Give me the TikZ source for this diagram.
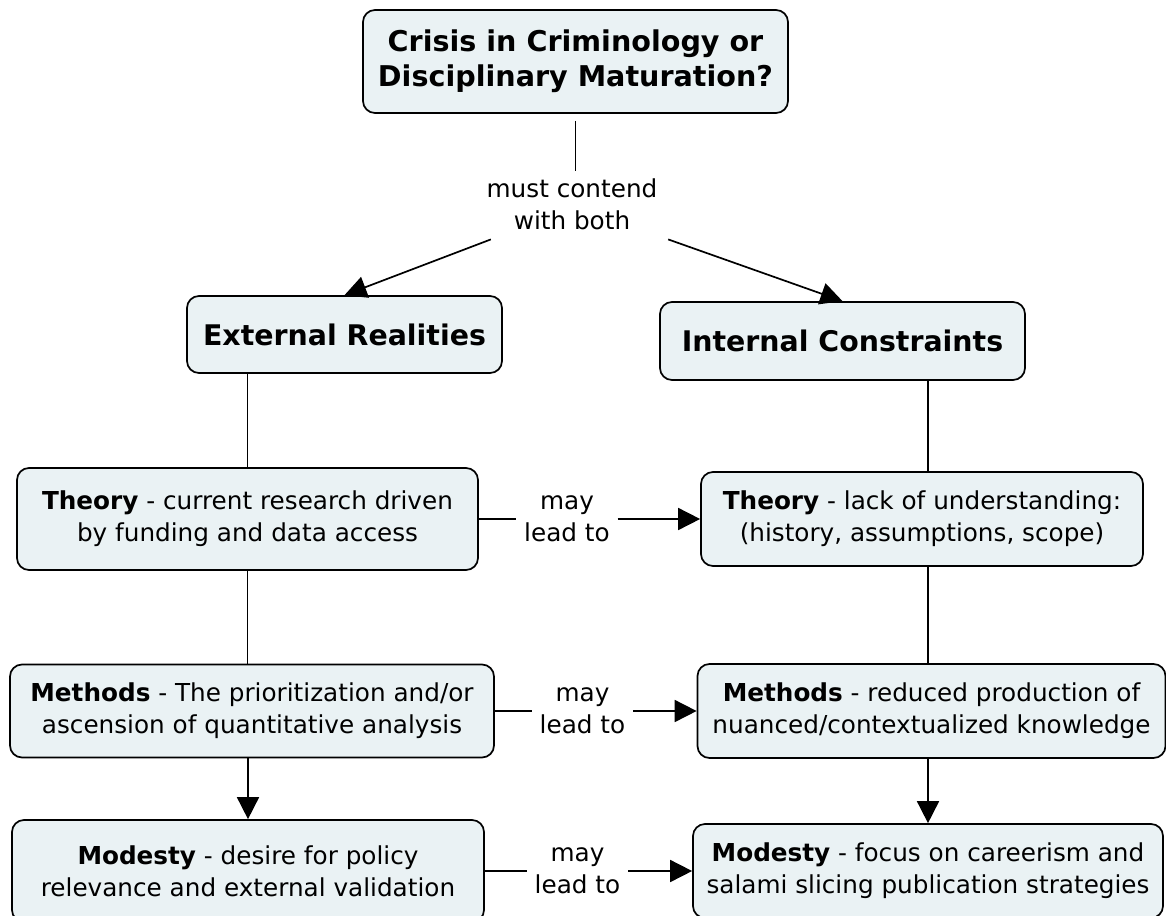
\documentclass[tikz,border=0pt]{standalone}
\usepackage{fontspec}
\setmainfont{DejaVu Sans}
\usepackage{xcolor}
\usetikzlibrary{arrows.meta}

\definecolor{conceptfill}{RGB}{234,242,244}
\tikzset{
  concept/.style={draw, fill=conceptfill, rounded corners=12pt, align=center, inner sep=0pt, font=\fontsize{24.7}{32}\selectfont},
  headconcept/.style={concept, font=\bfseries\fontsize{28.4}{35}\selectfont},
  linkphrase/.style={align=center, inner sep=7pt, font=\fontsize{24.7}{32}\selectfont},
  leadsto/.style={-{Triangle[length=22pt,width=22pt]}},
}

\begin{document}
\begin{tikzpicture}[x=1pt,y=-1pt,line width=1.7pt]
\useasboundingbox (0,0) rectangle (1166,915);

\node[headconcept, minimum width=425pt, minimum height=103pt, font=\bfseries\fontsize{28.6}{35}\selectfont] (crisis) at (575.5,61.5) {Crisis in Criminology or\\Disciplinary Maturation?};
\node[linkphrase] (must) at (572,204) {must contend\\with both};

\node[headconcept, minimum width=315pt, minimum height=77pt] (er) at (344.5,334.5) {External Realities};
\node[headconcept, minimum width=365pt, minimum height=78pt] (ic) at (842.5,341) {Internal Constraints};

%left column
\node[concept, minimum width=461pt, minimum height=102pt] (thL) at (247.5,519) {\textbf{Theory} - current research driven\\by funding and data access};
\node[concept, minimum width=484pt, minimum height=93pt] (mL) at (252,711) {\textbf{Methods} - The prioritization and/or\\ascension of quantitative analysis};
\node[concept, minimum width=472pt, minimum height=102pt] (modL) at (248,871) {\textbf{Modesty} - desire for policy\\relevance and external validation};

%right column
\node[concept, minimum width=442pt, minimum height=94pt] (thR) at (922,519) {\textbf{Theory} - lack of understanding:\\(history, assumptions, scope)};
\node[concept, minimum width=468pt, minimum height=94pt] (mR) at (931.5,711) {\textbf{Methods} - reduced production of\\nuanced/contextualized knowledge};
\node[concept, minimum width=470pt, minimum height=94pt] (modR) at (928,871) {\textbf{Modesty} - focus on careerism and\\salami slicing publication strategies};

\node[linkphrase] (may1) at (567,519) {may\\lead to};
\node[linkphrase] (may2) at (582.5,711) {may\\lead to};
\node[linkphrase] (may3) at (577.5,871) {may\\lead to};

\draw[shorten <=7pt] (crisis.south) -- (crisis.south |- must.north);
\draw[leadsto] ([xshift=12pt,yshift=-2pt]must.south west) -- (er.north);
\draw[leadsto] ([xshift=3pt,yshift=-2pt]must.south east) -- (ic.north);

\draw (er.south -| thL.north) -- (thL.north);
\draw (thL.south) -- (mL.north -| thL.south);
\draw[leadsto] (mL.south -| modL.north) -- (modL.north);

\draw (ic.south -| modR.north) -- (thR.north -| modR.north);
\draw (thR.south -| modR.north) -- (mR.north -| modR.north);
\draw[leadsto] (mR.south -| modR.north) -- (modR.north);

\draw (thL) -- (may1);
\draw[leadsto] (may1) -- (thR);
\draw (mL) -- (may2);
\draw[leadsto] (may2) -- (mR);
\draw (modL) -- (may3);
\draw[leadsto] (may3) -- (modR);

\end{tikzpicture}
\end{document}
